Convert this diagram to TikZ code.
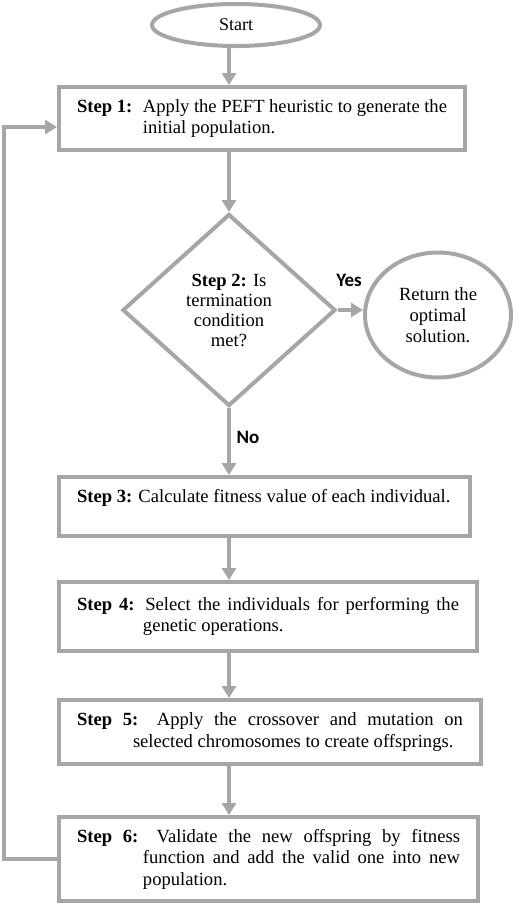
\documentclass[tikz,border=0pt]{standalone}
\usepackage{fontspec}
\setmainfont{Liberation Serif}
\newfontfamily\answerfont{Carlito}
\usepackage{tikz}
\usetikzlibrary{arrows.meta,calc,shapes.geometric}
\definecolor{flowgray}{RGB}{166,166,166}
\newcommand{\steptext}[3]{\hangindent=#1pt\hangafter=1 \textbf{Step #2:} #3\par}

\begin{document}
\begin{tikzpicture}[x=1pt,y=-1pt,
    every node/.style={font=\fontsize{18}{21.5}\selectfont},
    stepbox/.style={draw=flowgray,line width=4pt,rectangle,anchor=north west,inner xsep=18pt,inner ysep=0pt,align=justify,font=\fontsize{18.6}{21.5}\selectfont},
    flow/.style={draw=flowgray,line width=4pt,-{Triangle[length=12pt,width=14pt]}},
    answer/.style={font=\answerfont\bfseries\fontsize{19}{21}\selectfont}]
  \useasboundingbox (0,0) rectangle (515,906);
  \node[ellipse,draw=flowgray,line width=4pt,minimum width=168pt,minimum height=42pt,inner sep=0pt] (start) at (236,25) {Start};
  \node[stepbox,minimum width=406pt,minimum height=63pt,text width=370pt] (b1) at (57,85) {\hangindent=66pt\hangafter=1 \makebox[66pt][l]{\textbf{Step 1:}}Apply the PEFT heuristic to generate the\\initial population.\par};
  \node[diamond,draw=flowgray,line width=4pt,aspect=1.1,minimum width=213pt,minimum height=192pt,inner sep=0pt,align=center,font=\fontsize{18.6}{20}\selectfont] (dia) at (229,310) {\textbf{Step 2:} Is\\termination\\condition\\met?};
  \node[ellipse,draw=flowgray,line width=4pt,minimum width=146pt,minimum height=125pt,inner sep=0pt,align=center,font=\fontsize{18.6}{21}\selectfont] (ret) at (438,315) {Return the\\optimal\\solution.};
  \node[stepbox,minimum width=411pt,minimum height=59pt,text width=375pt] (b3) at (57,475) {\steptext{66}{3}{Calculate fitness value of each individual.\\\mbox{}}};
  \node[stepbox,minimum width=418pt,minimum height=69pt,text width=382pt] (b4) at (57,580) {\steptext{66}{4}{Select the individuals for performing the\linebreak genetic operations.}};
  \node[stepbox,minimum width=422pt,minimum height=64pt,text width=386pt] (b5) at (57,698) {\steptext{56}{5}{Apply the crossover and mutation on\linebreak selected chromosomes to create offsprings.}};
  \node[stepbox,minimum width=419pt,minimum height=84pt,text width=383pt] (b6) at (57,815) {\steptext{66}{6}{Validate the new offspring by fitness\linebreak function and add the valid one into new\linebreak population.}};
  \node[answer] (yes) at (349,280) {Yes};
  \node[answer] (no) at (248,437) {No};
  \coordinate (loop) at (4,127);
  \draw[flow] (start.south -| dia) -- (b1.north -| dia);
  \draw[flow] (b1.south -| dia) -- (dia.north);
  \draw[flow] (dia.east) -- (ret.west |- dia.east);
  \draw[flow] (dia.south) -- (b3.north -| dia);
  \draw[flow] (b3.south -| dia) -- (b4.north -| dia);
  \draw[flow] (b4.south -| dia) -- (b5.north -| dia);
  \draw[flow] (b5.south -| dia) -- (b6.north -| dia);
  \draw[flow] (b6.west) -| (loop) -- (loop -| b1.west);
\end{tikzpicture}
\end{document}
